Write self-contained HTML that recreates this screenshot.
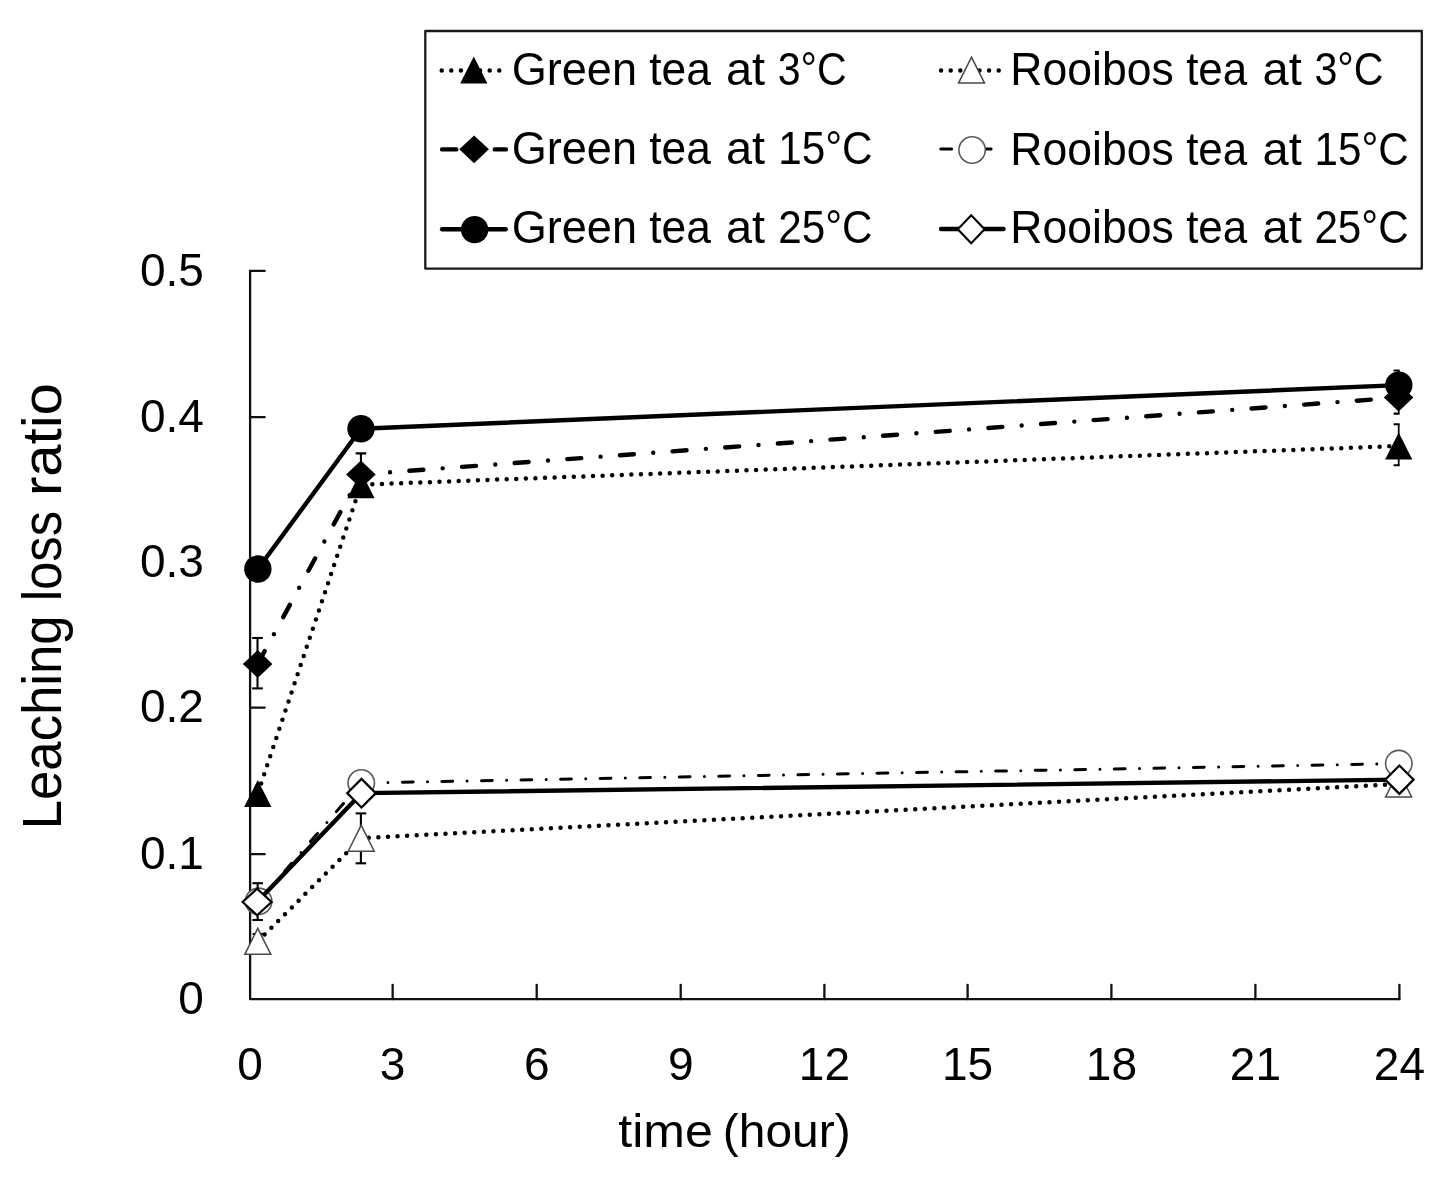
<!DOCTYPE html>
<html><head><meta charset="utf-8"><title>Leaching loss ratio</title>
<style>
html,body{margin:0;padding:0;background:#fff;}
body{width:1442px;height:1178px;overflow:hidden;}
svg{display:block;font-family:"Liberation Sans", sans-serif;will-change:transform;}
</style></head>
<body>
<svg width="1442" height="1178" viewBox="0 0 1442 1178" font-family='"Liberation Sans", sans-serif' fill="#000">
<rect x="0" y="0" width="1442" height="1178" fill="#fff"/>
<rect x="425.3" y="31.0" width="996.50" height="237.60" fill="none" stroke="#1a1a1a" stroke-width="2.3" stroke-linejoin="round"/>
<line x1="441.7" y1="70.5" x2="500" y2="70.5" stroke="#000" stroke-width="4.5" stroke-dasharray="0 9.6" stroke-linecap="round"/>
<polygon points="473.80,56.40 487.40,83.60 460.20,83.60" fill="#000"/>
<line x1="442.1" y1="149.4" x2="505.9" y2="149.4" stroke="#000" stroke-width="4.4" stroke-dasharray="14.2 38.5" stroke-linecap="round"/>
<polygon points="474.10,135.40 488.90,149.30 474.10,163.20 459.30,149.30" fill="#000"/>
<line x1="442.1" y1="229.3" x2="505.7" y2="229.3" stroke="#000" stroke-width="4.4" stroke-linecap="round"/>
<circle cx="474.60" cy="229.60" r="13.7" fill="#000"/>
<line x1="941.1" y1="70.4" x2="999.3" y2="70.4" stroke="#000" stroke-width="4.5" stroke-dasharray="0 9.6" stroke-linecap="round"/>
<polygon points="971.50,57.10 984.50,83.10 958.50,83.10" fill="#fff" stroke="#484848" stroke-width="1.5"/>
<line x1="940.8" y1="149.1" x2="991.1" y2="149.1" stroke="#000" stroke-width="3" stroke-dasharray="10.8 14.38 0 14.38" stroke-linecap="round"/>
<circle cx="972.10" cy="150.00" r="13.2" fill="#fff" stroke="#5a5a5a" stroke-width="1.6"/>
<line x1="941.1" y1="229.0" x2="1003.5" y2="229.0" stroke="#000" stroke-width="4.4" stroke-linecap="round"/>
<polygon points="971.20,215.20 984.60,229.20 971.20,243.20 957.80,229.20" fill="#fff" stroke="#000" stroke-width="2.1"/>
<text x="511.75" y="84.80" font-size="45.6" textLength="125.25" lengthAdjust="spacingAndGlyphs">Green</text>
<text x="649.24" y="84.80" font-size="45.6" textLength="61.57" lengthAdjust="spacingAndGlyphs">tea</text>
<text x="725.90" y="84.80" font-size="45.6" textLength="39.20" lengthAdjust="spacingAndGlyphs">at</text>
<text x="777.76" y="84.80" font-size="45.6" textLength="69.01" lengthAdjust="spacingAndGlyphs">3°C</text>
<text x="511.75" y="164.40" font-size="45.6" textLength="125.25" lengthAdjust="spacingAndGlyphs">Green</text>
<text x="649.24" y="164.40" font-size="45.6" textLength="61.57" lengthAdjust="spacingAndGlyphs">tea</text>
<text x="725.90" y="164.40" font-size="45.6" textLength="39.20" lengthAdjust="spacingAndGlyphs">at</text>
<text x="778.13" y="164.40" font-size="45.6" textLength="94.43" lengthAdjust="spacingAndGlyphs">15°C</text>
<text x="511.75" y="243.30" font-size="45.6" textLength="125.25" lengthAdjust="spacingAndGlyphs">Green</text>
<text x="649.24" y="243.30" font-size="45.6" textLength="61.57" lengthAdjust="spacingAndGlyphs">tea</text>
<text x="725.90" y="243.30" font-size="45.6" textLength="39.20" lengthAdjust="spacingAndGlyphs">at</text>
<text x="778.29" y="243.30" font-size="45.6" textLength="94.27" lengthAdjust="spacingAndGlyphs">25°C</text>
<text x="1010.33" y="84.90" font-size="45.6" textLength="163.40" lengthAdjust="spacingAndGlyphs">Rooibos</text>
<text x="1186.14" y="84.90" font-size="45.6" textLength="61.07" lengthAdjust="spacingAndGlyphs">tea</text>
<text x="1262.60" y="84.90" font-size="45.6" textLength="39.20" lengthAdjust="spacingAndGlyphs">at</text>
<text x="1314.45" y="84.90" font-size="45.6" textLength="69.22" lengthAdjust="spacingAndGlyphs">3°C</text>
<text x="1010.33" y="164.60" font-size="45.6" textLength="163.40" lengthAdjust="spacingAndGlyphs">Rooibos</text>
<text x="1186.14" y="164.60" font-size="45.6" textLength="61.07" lengthAdjust="spacingAndGlyphs">tea</text>
<text x="1262.60" y="164.60" font-size="45.6" textLength="39.20" lengthAdjust="spacingAndGlyphs">at</text>
<text x="1314.54" y="164.60" font-size="45.6" textLength="94.12" lengthAdjust="spacingAndGlyphs">15°C</text>
<text x="1010.33" y="243.10" font-size="45.6" textLength="163.40" lengthAdjust="spacingAndGlyphs">Rooibos</text>
<text x="1186.14" y="243.10" font-size="45.6" textLength="61.07" lengthAdjust="spacingAndGlyphs">tea</text>
<text x="1262.60" y="243.10" font-size="45.6" textLength="39.20" lengthAdjust="spacingAndGlyphs">at</text>
<text x="1314.39" y="243.10" font-size="45.6" textLength="94.27" lengthAdjust="spacingAndGlyphs">25°C</text>
<path d="M250.1,270.9 V999.2 H1399.4" fill="none" stroke="#111" stroke-width="2.3" stroke-linejoin="round" stroke-linecap="round"/>
<line x1="250.1" y1="854.20" x2="264.7" y2="854.20" stroke="#111" stroke-width="2.3" stroke-linecap="round"/>
<line x1="250.1" y1="707.60" x2="264.7" y2="707.60" stroke="#111" stroke-width="2.3" stroke-linecap="round"/>
<line x1="250.1" y1="562.40" x2="264.7" y2="562.40" stroke="#111" stroke-width="2.3" stroke-linecap="round"/>
<line x1="250.1" y1="417.20" x2="264.7" y2="417.20" stroke="#111" stroke-width="2.3" stroke-linecap="round"/>
<line x1="250.1" y1="270.90" x2="264.7" y2="270.90" stroke="#111" stroke-width="2.3" stroke-linecap="round"/>
<line x1="392.65" y1="999.2" x2="392.65" y2="984.8" stroke="#111" stroke-width="2.3" stroke-linecap="round"/>
<line x1="536.70" y1="999.2" x2="536.70" y2="984.8" stroke="#111" stroke-width="2.3" stroke-linecap="round"/>
<line x1="680.70" y1="999.2" x2="680.70" y2="984.8" stroke="#111" stroke-width="2.3" stroke-linecap="round"/>
<line x1="824.40" y1="999.2" x2="824.40" y2="984.8" stroke="#111" stroke-width="2.3" stroke-linecap="round"/>
<line x1="967.60" y1="999.2" x2="967.60" y2="984.8" stroke="#111" stroke-width="2.3" stroke-linecap="round"/>
<line x1="1111.40" y1="999.2" x2="1111.40" y2="984.8" stroke="#111" stroke-width="2.3" stroke-linecap="round"/>
<line x1="1255.40" y1="999.2" x2="1255.40" y2="984.8" stroke="#111" stroke-width="2.3" stroke-linecap="round"/>
<line x1="1399.40" y1="999.2" x2="1399.40" y2="984.8" stroke="#111" stroke-width="2.3" stroke-linecap="round"/>
<text x="203.90" y="1014.00" font-size="46" text-anchor="end" >0</text>
<text x="203.90" y="869.00" font-size="46" text-anchor="end" >0.1</text>
<text x="203.90" y="722.40" font-size="46" text-anchor="end" >0.2</text>
<text x="203.90" y="577.20" font-size="46" text-anchor="end" >0.3</text>
<text x="203.90" y="432.00" font-size="46" text-anchor="end" >0.4</text>
<text x="203.90" y="285.70" font-size="46" text-anchor="end" >0.5</text>
<text x="250.10" y="1079.60" font-size="46" text-anchor="middle" >0</text>
<text x="392.65" y="1079.60" font-size="46" text-anchor="middle" >3</text>
<text x="536.70" y="1079.60" font-size="46" text-anchor="middle" >6</text>
<text x="680.70" y="1079.60" font-size="46" text-anchor="middle" >9</text>
<text x="824.40" y="1079.60" font-size="46" text-anchor="middle" >12</text>
<text x="967.60" y="1079.60" font-size="46" text-anchor="middle" >15</text>
<text x="1111.40" y="1079.60" font-size="46" text-anchor="middle" >18</text>
<text x="1255.40" y="1079.60" font-size="46" text-anchor="middle" >21</text>
<text x="1399.40" y="1079.60" font-size="46" text-anchor="middle" >24</text>
<text x="618.25" y="1146.70" font-size="46.8" textLength="94.46" lengthAdjust="spacingAndGlyphs">time</text>
<text x="722.80" y="1146.70" font-size="46.8" textLength="127.89" lengthAdjust="spacingAndGlyphs">(hour)</text>
<text transform="translate(61.0,829.25) rotate(-90)" x="0" y="0" font-size="55.0" textLength="213.82" lengthAdjust="spacingAndGlyphs">Leaching</text>
<text transform="translate(61.0,601.23) rotate(-90)" x="0" y="0" font-size="55.0" textLength="90.46" lengthAdjust="spacingAndGlyphs">loss</text>
<text transform="translate(61.0,496.12) rotate(-90)" x="0" y="0" font-size="55.0" textLength="113.01" lengthAdjust="spacingAndGlyphs">ratio</text>
<defs><clipPath id="pa"><rect x="250" y="260" width="1149.6" height="740"/></clipPath></defs>
<polyline points="257.75,793.50 360.95,484.70 1398.70,446.00" fill="none" stroke="#000" stroke-width="4.5" stroke-dasharray="0 9.6" stroke-dashoffset="-1" stroke-linecap="round"/>
<g clip-path="url(#pa)" stroke="#000" stroke-width="2.1"><line x1="1398.90" y1="424.3" x2="1398.90" y2="465.3"/><line x1="1393.60" y1="424.3" x2="1404.20" y2="424.3"/><line x1="1393.60" y1="465.3" x2="1404.20" y2="465.3"/></g>
<polygon points="257.75,779.90 271.35,807.10 244.15,807.10" fill="#000"/>
<polygon points="360.95,471.10 374.55,498.30 347.35,498.30" fill="#000"/>
<polygon points="1398.70,432.40 1412.30,459.60 1385.10,459.60" fill="#000"/>
<polyline points="257.65,664.00 360.90,474.40 1398.60,397.60" fill="none" stroke="#000" stroke-width="4.4" stroke-dasharray="14 19.39 0 19.39" stroke-dashoffset="-0.6" stroke-linecap="round"/>
<g clip-path="url(#pa)" stroke="#000" stroke-width="2.1"><line x1="257.50" y1="638.0" x2="257.50" y2="688.4"/><line x1="252.20" y1="638.0" x2="262.80" y2="638.0"/><line x1="252.20" y1="688.4" x2="262.80" y2="688.4"/></g>
<g clip-path="url(#pa)" stroke="#000" stroke-width="2.1"><line x1="360.95" y1="453.4" x2="360.95" y2="495.2"/><line x1="355.65" y1="453.4" x2="366.25" y2="453.4"/><line x1="355.65" y1="495.2" x2="366.25" y2="495.2"/></g>
<g clip-path="url(#pa)" stroke="#000" stroke-width="2.1"><line x1="1398.90" y1="381.6" x2="1398.90" y2="413.6"/><line x1="1393.60" y1="381.6" x2="1404.20" y2="381.6"/><line x1="1393.60" y1="413.6" x2="1404.20" y2="413.6"/></g>
<polygon points="257.65,650.10 272.45,664.00 257.65,677.90 242.85,664.00" fill="#000"/>
<polygon points="360.90,460.50 375.70,474.40 360.90,488.30 346.10,474.40" fill="#000"/>
<polygon points="1398.60,383.70 1413.40,397.60 1398.60,411.50 1383.80,397.60" fill="#000"/>
<polyline points="257.85,569.00 361.00,428.70 1398.80,385.10" fill="none" stroke="#000" stroke-width="4.4" stroke-linejoin="round"/>
<g clip-path="url(#pa)" stroke="#000" stroke-width="2.1"><line x1="1398.90" y1="370.5" x2="1398.90" y2="399.7"/><line x1="1393.60" y1="370.5" x2="1404.20" y2="370.5"/><line x1="1393.60" y1="399.7" x2="1404.20" y2="399.7"/></g>
<circle cx="257.85" cy="569.00" r="13.7" fill="#000"/>
<circle cx="361.00" cy="428.70" r="13.7" fill="#000"/>
<circle cx="1398.80" cy="385.10" r="13.7" fill="#000"/>
<polyline points="257.80,941.30 361.20,838.20 1398.60,784.00" fill="none" stroke="#000" stroke-width="4.5" stroke-dasharray="0 9.6" stroke-linecap="round"/>
<g clip-path="url(#pa)" stroke="#000" stroke-width="2.1"><line x1="257.90" y1="934.0" x2="257.90" y2="948.6"/><line x1="252.60" y1="934.0" x2="263.20" y2="934.0"/><line x1="252.60" y1="948.6" x2="263.20" y2="948.6"/></g>
<g clip-path="url(#pa)" stroke="#000" stroke-width="2.1"><line x1="360.90" y1="813.4" x2="360.90" y2="863.3"/><line x1="355.60" y1="813.4" x2="366.20" y2="813.4"/><line x1="355.60" y1="863.3" x2="366.20" y2="863.3"/></g>
<polygon points="257.80,928.30 270.80,954.30 244.80,954.30" fill="#fff" stroke="#484848" stroke-width="1.5"/>
<polygon points="361.20,825.20 374.20,851.20 348.20,851.20" fill="#fff" stroke="#484848" stroke-width="1.5"/>
<polygon points="1398.60,771.00 1411.60,797.00 1385.60,797.00" fill="#fff" stroke="#484848" stroke-width="1.5"/>
<polyline points="258.60,901.30 361.25,782.90 1398.80,763.60" fill="none" stroke="#000" stroke-width="3.0" stroke-dasharray="10.8 14.38 0 14.38" stroke-linecap="round"/>
<circle cx="258.60" cy="901.30" r="13.2" fill="#fff" stroke="#5a5a5a" stroke-width="1.6"/>
<circle cx="361.25" cy="782.90" r="13.2" fill="#fff" stroke="#5a5a5a" stroke-width="1.6"/>
<circle cx="1398.80" cy="763.60" r="13.2" fill="#fff" stroke="#5a5a5a" stroke-width="1.6"/>
<polyline points="257.10,902.00 361.50,793.15 1399.40,779.65" fill="none" stroke="#000" stroke-width="4.4" stroke-linejoin="round"/>
<g clip-path="url(#pa)" stroke="#000" stroke-width="2.1"><line x1="257.65" y1="883.2" x2="257.65" y2="920.0"/><line x1="252.35" y1="883.2" x2="262.95" y2="883.2"/><line x1="252.35" y1="920.0" x2="262.95" y2="920.0"/></g>
<polygon points="257.10,888.70 271.60,902.00 257.10,915.30 242.60,902.00" fill="#fff" stroke="#000" stroke-width="2.2"/>
<polygon points="361.50,778.85 375.80,793.15 361.50,807.45 347.20,793.15" fill="#fff" stroke="#000" stroke-width="2.2"/>
<polygon points="1399.40,765.45 1413.60,779.65 1399.40,793.85 1385.20,779.65" fill="#fff" stroke="#000" stroke-width="2.2"/>
</svg>
</body></html>
